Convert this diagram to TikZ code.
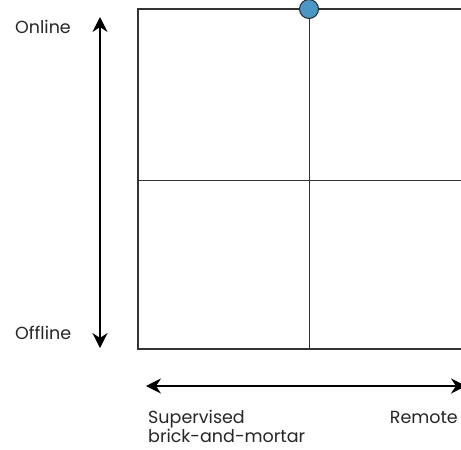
\documentclass[tikz,border=0pt]{standalone}
\usepackage{fontspec}
\setmainfont{Poppins}
\usetikzlibrary{positioning,arrows.meta}

\begin{document}
\begin{tikzpicture}[x=1pt,y=-1pt]
  \tikzstyle{gridLine} = [
    % The border:
    draw=black!80, line width=1.5pt
  ];
  \tikzstyle{axisArrow} = [
    draw = black,
    line width=1.3pt,
    {Stealth[length=15pt,width=15pt,inset=5pt]}-{Stealth[length=15pt,width=15pt,inset=5pt]}
  ];
  \tikzstyle{axisLabel} = [
    % Just text!
    inner sep=0pt, font=\fontsize{17.5}{21}\selectfont, text=black!85
  ];
  \tikzstyle{marker} = [
    circle, minimum size=19pt, inner sep=0pt,
    draw=black!85, line width=1pt,
    fill={rgb,255:red,74;green,151;blue,198}
  ];

  \useasboundingbox (0,0) rectangle (461,450);
  \clip (0,0) rectangle (461,450);

  % the quadrant box
  \coordinate (boxNW) at (138,9);
  \coordinate (boxSE) at (480,349);
  \coordinate (midTop) at (309,9);
  \coordinate (midBottom) at (309,349);
  \coordinate (midLeft) at (138,180);
  \coordinate (midRight) at (480,180);

  \path [gridLine] (boxNW) rectangle (boxSE);
  \path [gridLine, line width=1pt] (midTop) -- (midBottom);
  \path [gridLine, line width=1pt] (midLeft) -- (midRight);

  \node [marker] (current) at (midTop) {};

  % axes
  \coordinate (onlineEnd) at (100,17);
  \coordinate (offlineEnd) at (100,348);
  \coordinate (supervisedEnd) at (146,386);
  \coordinate (remoteEnd) at (466,386);

  \path [axisArrow] (onlineEnd) -- (offlineEnd);
  \path [axisArrow] (supervisedEnd) -- (remoteEnd);

  \node [axisLabel, anchor=base west] (online) at (15,33) {Online};
  \node [axisLabel, anchor=base west] (offline) at (15,339) {Offline};
  \node [axisLabel, anchor=base west] (supervised) at (148,423) {Supervised};
  \node [axisLabel, anchor=base west] (brick) at (148,442) {brick-and-mortar};
  \node [axisLabel, anchor=base east] (remote) at (458,423) {Remote};
\end{tikzpicture}
\end{document}
